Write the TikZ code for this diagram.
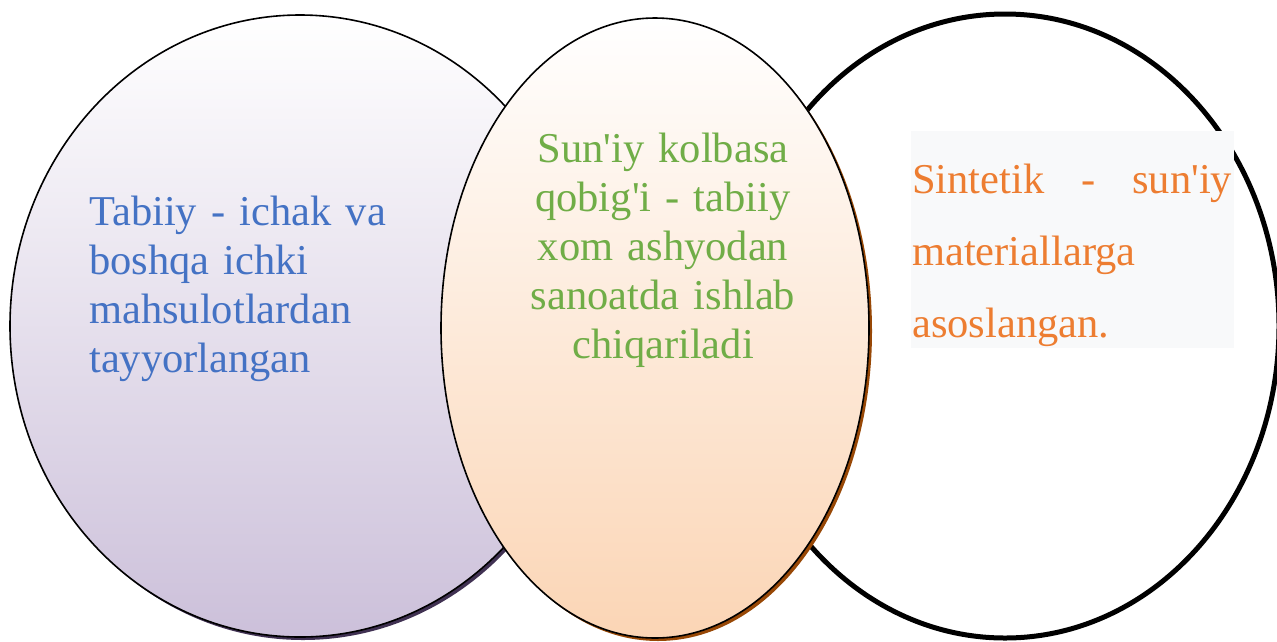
\documentclass[tikz,border=0pt]{standalone}
\usepackage{fontspec}
\setmainfont{Liberation Serif}
\usepackage{tikz}
\usetikzlibrary{positioning}
\definecolor{tabiiyrang}{RGB}{68,114,196}
\definecolor{suniyrang}{RGB}{112,173,71}
\definecolor{sintetikrang}{RGB}{237,125,49}
\definecolor{lavanda}{RGB}{204,192,218}
\definecolor{lavsoya}{RGB}{64,49,82}
\definecolor{shaftoli}{RGB}{251,213,181}
\definecolor{jigarrang}{RGB}{152,72,6}
\definecolor{qutirang}{RGB}{248,249,250}

\begin{document}
\begin{tikzpicture}[x=1pt,y=1pt,
  matn/.style={font=\fontsize{42.5}{49}\selectfont, inner sep=0pt},
  chegara/.style={draw=black, line width=1.6pt}]

            \useasboundingbox (0,0) rectangle (1277,-641);
            \clip (0,0) rectangle (1277,-641);

            % O'ng ellips
            \draw[line width=5pt, fill=white] (1005,-326) ellipse [x radius=274pt, y radius=312pt];

            % Kulrang quti va matn
            \node[fill=qutirang, minimum width=323, minimum height=217, inner sep=0pt, anchor=north west] (sintetikquti) at (911,-131) {};
            \node[matn, font=\fontsize{42.5}{72}\selectfont, text=sintetikrang, text width=320, align=left, anchor=base west] (sintetik) at (912,-193)
              {Sintetik\hfill-\hfill sun\textquotesingle iy\\ materiallarga\\ asoslangan.};

            % Chap ellips
            \fill[lavsoya] (303,-329) ellipse [x radius=290pt, y radius=311pt];
            \fill[white] (300,-326) ellipse [x radius=290pt, y radius=311pt];
            \shade[top color=white, bottom color=lavanda, chegara] (300,-326) ellipse [x radius=290pt, y radius=311pt];

            % O'rta ellips
            \fill[jigarrang] (658,-331) ellipse [x radius=214pt, y radius=310pt];
            \fill[white] (655,-328) ellipse [x radius=214pt, y radius=310pt];
            \shade[top color=white, bottom color=shaftoli, chegara] (655,-328) ellipse [x radius=214pt, y radius=310pt];

            % Matnlar
            \node[matn, text=tabiiyrang, text width=300, align=left, anchor=base west] (tabiiy) at (89,-225)
              {Tabiiy - ichak va\\ boshqa ichki\\ mahsulotlardan\\ tayyorlangan};
            \node[matn, text=suniyrang, text width=290, align=center, anchor=base] (suniy) at (663,-162)
              {Sun\textquotesingle iy kolbasa\\ qobig\textquotesingle i - tabiiy\\ xom ashyodan\\ sanoatda ishlab\\ chiqariladi};

\end{tikzpicture}
\end{document}
